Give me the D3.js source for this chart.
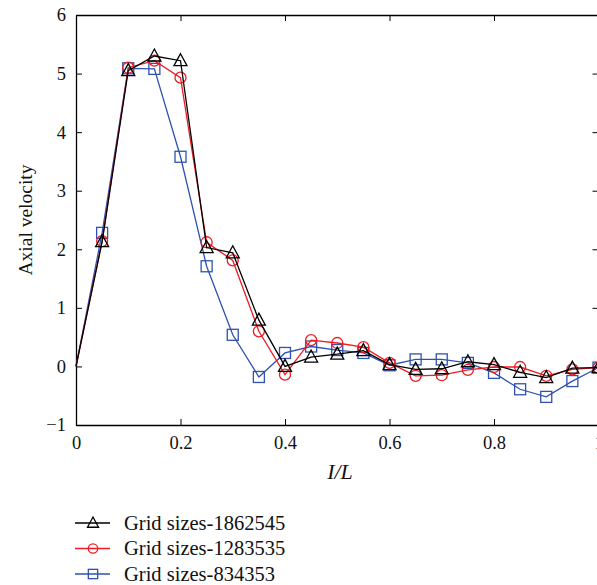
<!DOCTYPE html>
<html>
<head>
<meta charset="utf-8">
<script src="https://cdn.jsdelivr.net/npm/d3@7"></script>
<style>
  body { margin: 0; background: #fff; }
  svg text { font-family: "Liberation Serif", "DejaVu Serif", serif !important; }
</style>
</head>
<body>
<script>
// positions along the pipe (I/L)
const xVals = [0, 0.05, 0.1, 0.15, 0.2, 0.25, 0.3, 0.35, 0.4, 0.45, 0.5,
               0.55, 0.6, 0.65, 0.7, 0.75, 0.8, 0.85, 0.9, 0.95, 1.0];

const grid1862545 = [0, 2.13, 5.05, 5.30, 5.22, 2.03, 1.94, 0.79, 0.0, 0.16, 0.21,
                     0.27, 0.03, -0.05, -0.04, 0.08, 0.03, -0.10, -0.19, -0.03, -0.02];
const grid1283535 = [0, 2.14, 5.10, 5.22, 4.93, 2.12, 1.81, 0.60, -0.14, 0.45, 0.40,
                     0.33, 0.06, -0.16, -0.15, -0.06, -0.01, -0.01, -0.16, -0.05, -0.02];
const grid834353  = [0, 2.28, 5.09, 5.08, 3.58, 1.71, 0.54, -0.18, 0.23, 0.34, 0.28,
                     0.23, 0.02, 0.12, 0.12, 0.06, -0.11, -0.39, -0.52, -0.25, -0.02];

const seriesNames = ["Grid sizes-1862545", "Grid sizes-1283535", "Grid sizes-834353"];
const seriesColors = ["#000000", "#ee1c24", "#2f52b0"];
const seriesMarkers = ["triangle", "circle", "square"];
const seriesValues = [grid1862545, grid1283535, grid834353];

const xTicks = [0, 0.2, 0.4, 0.6, 0.8, 1];
const yTicks = [-1, 0, 1, 2, 3, 4, 5, 6];

const width = 597, height = 585;
const plotLeft = 76, plotTop = 15, plotRight = 598.5, plotBottom = 425;
const serif = '"Liberation Serif", "DejaVu Serif", serif';

const svg = d3.select("body").append("svg")
    .attr("width", width)
    .attr("height", height)
    .style("font-family", serif);

const x = d3.scaleLinear().domain([0, 1]).range([plotLeft, plotRight]);
const y = d3.scaleLinear().domain([-1, 6]).range([plotBottom, plotTop]);

// frame with inward ticks
svg.append("g")
    .attr("transform", `translate(0,${plotBottom})`)
    .call(d3.axisBottom(x).tickValues(xTicks).tickSizeInner(-6).tickSizeOuter(0)
        .tickPadding(11).tickFormat(d3.format("")))
    .call(g => g.selectAll("text").attr("font-size", 18.5).attr("fill", "#111"));

svg.append("g")
    .attr("transform", `translate(0,${plotTop})`)
    .call(d3.axisTop(x).tickValues(xTicks).tickSizeInner(-6).tickSizeOuter(0).tickFormat(""));

svg.append("g")
    .attr("transform", `translate(${plotLeft},0)`)
    .call(d3.axisLeft(y).tickValues(yTicks).tickSizeInner(-6).tickSizeOuter(0)
        .tickPadding(10).tickFormat(d => d < 0 ? "\u2212" + Math.abs(d) : d))
    .call(g => g.selectAll("text").attr("font-size", 18.5).attr("fill", "#111"));

svg.append("g")
    .attr("transform", `translate(${plotRight},0)`)
    .call(d3.axisRight(y).tickValues(yTicks).tickSizeInner(-6).tickSizeOuter(0).tickFormat(""));

svg.selectAll(".domain").attr("stroke", "#000").attr("stroke-width", 1.3);
svg.selectAll(".tick line").attr("stroke", "#000").attr("stroke-width", 1);

// axis titles
svg.append("text")
    .attr("x", 340).attr("y", 479)
    .attr("text-anchor", "middle")
    .attr("font-size", 22)
    .attr("font-style", "italic")
    .attr("fill", "#111")
    .text("I/L");

svg.append("text")
    .attr("transform", `translate(32,220) rotate(-90)`)
    .attr("text-anchor", "middle")
    .attr("font-size", 19.5)
    .attr("fill", "#111")
    .text("Axial velocity");

function drawMarker(g, type, cx, cy, color, s = 1) {
    if (type === "triangle") {
        g.append("path")
            .attr("d", `M${cx},${cy - 7 * s}L${cx + 6.5 * s},${cy + 5 * s}L${cx - 6.5 * s},${cy + 5 * s}Z`)
            .attr("fill", "none").attr("stroke", color).attr("stroke-width", 1.3);
    } else if (type === "circle") {
        g.append("circle")
            .attr("cx", cx).attr("cy", cy).attr("r", 5.5 * s)
            .attr("fill", "none").attr("stroke", color).attr("stroke-width", 1.3);
    } else {
        g.append("rect")
            .attr("x", cx - 5.5 * s).attr("y", cy - 5.5 * s)
            .attr("width", 11 * s).attr("height", 11 * s)
            .attr("fill", "none").attr("stroke", color).attr("stroke-width", 1.3);
    }
}

const line = d3.line().x((d, i) => x(xVals[i])).y(d => y(d));

// draw bottom series first so black sits on top
[2, 1, 0].forEach(k => {
    const g = svg.append("g");
    g.append("path")
        .datum(seriesValues[k])
        .attr("d", line)
        .attr("fill", "none")
        .attr("stroke", seriesColors[k])
        .attr("stroke-width", 1.3);
    seriesValues[k].forEach((v, i) => {
        if (i === 0) return;
        drawMarker(g, seriesMarkers[k], x(xVals[i]), y(v), seriesColors[k]);
    });
});

// legend
const legend = svg.append("g");
seriesNames.forEach((name, k) => {
    const ly = 523 + k * 25.5;
    legend.append("line")
        .attr("x1", 75).attr("x2", 110)
        .attr("y1", ly).attr("y2", ly)
        .attr("stroke", seriesColors[k]).attr("stroke-width", 1.3);
    drawMarker(legend, seriesMarkers[k], 93, ly, seriesColors[k], 0.85);
    legend.append("text")
        .attr("x", 124).attr("y", ly + 6.5)
        .attr("font-size", 20.5)
        .attr("fill", "#111")
        .text(name);
});
</script>
</body>
</html>
